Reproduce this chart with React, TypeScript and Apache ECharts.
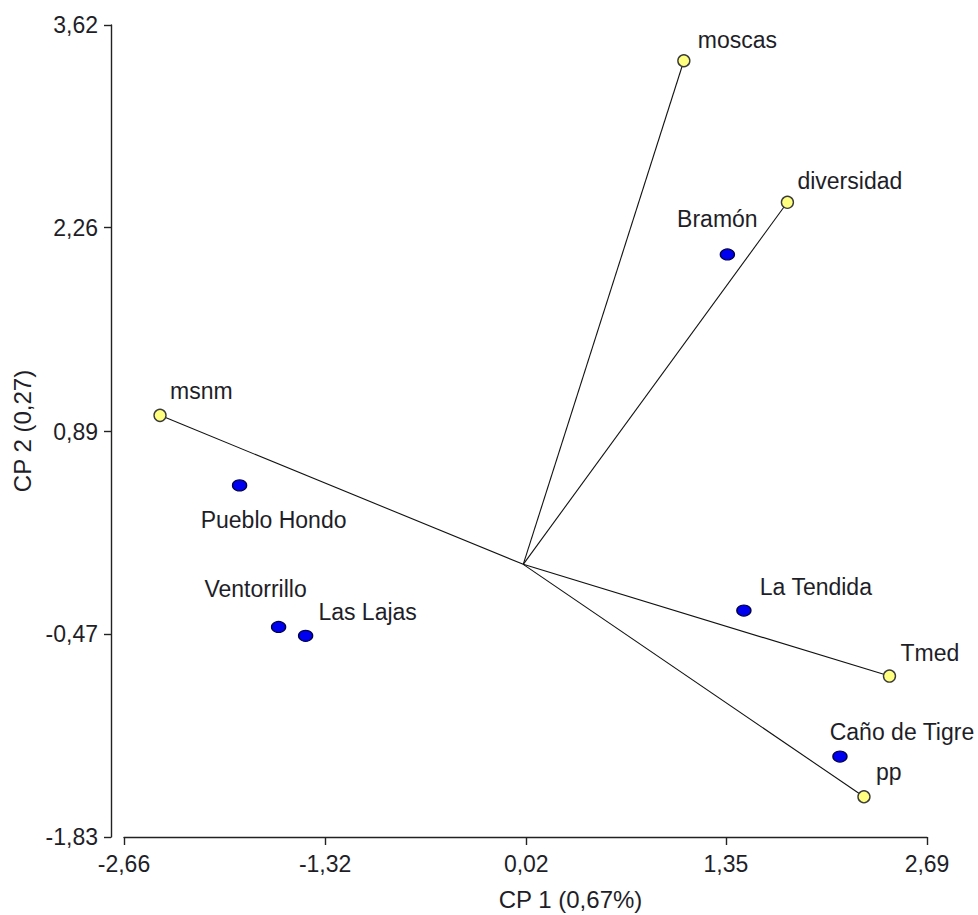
import React, { useEffect, useRef } from "react";
import * as echarts from "echarts";

const varNames = ["moscas", "diversidad", "msnm", "Tmed", "pp"];
const varX = [1.07, 1.76, -2.42, 2.44, 2.27];
const varY = [3.38, 2.43, 1.0, -0.75, -1.56];

const siteNames = ["Bramón", "Pueblo Hondo", "Ventorrillo", "Las Lajas", "La Tendida", "Caño de Tigre"];
const siteX = [1.36, -1.89, -1.63, -1.45, 1.47, 2.11];
const siteY = [2.08, 0.53, -0.42, -0.48, -0.31, -1.29];

const xTicks = [-2.66, -1.32, 0.02, 1.35, 2.69];
const yTicks = [-1.83, -0.47, 0.89, 2.26, 3.62];

const xName = "CP 1 (0,67%)";
const yName = "CP 2 (0,27)";

// label placement (styling, not data)
const varLabelOffset: Record<string, [number, number]> = {
  moscas: [14, -21],
  diversidad: [10, -21],
  msnm: [10, -24],
  Tmed: [11, -23],
  pp: [12, -25],
};
const siteLabelOffset: Record<string, [number, number]> = {
  "Bramón": [-10, -35],
  "Pueblo Hondo": [34, 35],
  "Ventorrillo": [-23, -38],
  "Las Lajas": [62, -24],
  "La Tendida": [72, -24],
  "Caño de Tigre": [62, -25],
};

const FONT = "Liberation Sans, Arial, sans-serif";
const FS = 23;
const TXT = "#1e1e28";

const fmt = (v: number) => v.toFixed(2).replace(".", ",");

export default function App() {
  const ref = useRef<HTMLDivElement>(null);
  useEffect(() => {
    document.body.style.margin = "0";
    document.body.style.overflow = "hidden";
    if (!ref.current) return;
    const chart = echarts.init(ref.current, undefined, { renderer: "svg" });
    const axisCommon = {
      type: "value",
      splitLine: { show: false },
      axisLine: { show: true, onZero: false, lineStyle: { color: "#222", width: 1.4 } },
      axisTick: { show: true, inside: false, length: 7, lineStyle: { color: "#222", width: 1.4 } },
      axisLabel: {
        color: TXT,
        fontFamily: FONT,
        fontSize: FS,
        formatter: (v: number) => fmt(v),
        showMinLabel: true,
        showMaxLabel: true,
        hideOverlap: false,
      },
      nameLocation: "middle",
      nameTextStyle: { color: TXT, fontFamily: FONT, fontSize: 24 },
    };
    chart.setOption({
      animation: false,
      backgroundColor: "#ffffff",
      grid: { left: 124, right: 51, top: 25, bottom: 78, outerBoundsMode: "none" },
      xAxis: {
        ...axisCommon,
        min: xTicks[0],
        max: xTicks[xTicks.length - 1],
        name: xName,
        nameGap: 50,
        nameTextStyle: { ...axisCommon.nameTextStyle, padding: [0, 0, 0, 90] },
        axisTick: { ...axisCommon.axisTick, length: 8, customValues: xTicks },
        axisLabel: { ...axisCommon.axisLabel, margin: 15, customValues: xTicks },
      },
      yAxis: {
        ...axisCommon,
        min: yTicks[0],
        max: yTicks[yTicks.length - 1],
        offset: 13,
        name: yName,
        nameGap: 71,
        axisTick: { ...axisCommon.axisTick, customValues: yTicks },
        axisLabel: { ...axisCommon.axisLabel, margin: 13, customValues: yTicks },
      },
      series: [
        {
          type: "lines",
          coordinateSystem: "cartesian2d",
          silent: true,
          z: 1,
          lineStyle: { color: "#111", width: 1.1, opacity: 1, curveness: 0 },
          data: varNames.map((n, i) => ({ name: n, coords: [[0, 0], [varX[i], varY[i]]] })),
        },
        {
          type: "scatter",
          z: 3,
          symbol: "circle",
          symbolSize: 12,
          itemStyle: { color: "#ffff80", borderColor: "#3a3a3a", borderWidth: 1.4, opacity: 1 },
          label: {
            show: true,
            position: "inside",
            align: "left",
            verticalAlign: "middle",
            color: TXT,
            fontFamily: FONT,
            fontSize: FS,
            formatter: (p: any) => p.name,
          },
          data: varNames.map((n, i) => ({
            name: n,
            value: [varX[i], varY[i]],
            label: { offset: varLabelOffset[n] },
          })),
        },
        {
          type: "scatter",
          z: 3,
          symbol: "circle",
          symbolSize: [14, 11],
          itemStyle: { color: "#0000f0", borderColor: "#00004a", borderWidth: 1.3, opacity: 1 },
          label: {
            show: true,
            position: "inside",
            align: "center",
            verticalAlign: "middle",
            color: TXT,
            fontFamily: FONT,
            fontSize: FS,
            formatter: (p: any) => p.name,
          },
          data: siteNames.map((n, i) => ({
            name: n,
            value: [siteX[i], siteY[i]],
            label: { offset: siteLabelOffset[n] },
          })),
        },
      ],
    });
    return () => chart.dispose();
  }, []);
  return <div ref={ref} style={{ width: 978, height: 915 }} />;
}
